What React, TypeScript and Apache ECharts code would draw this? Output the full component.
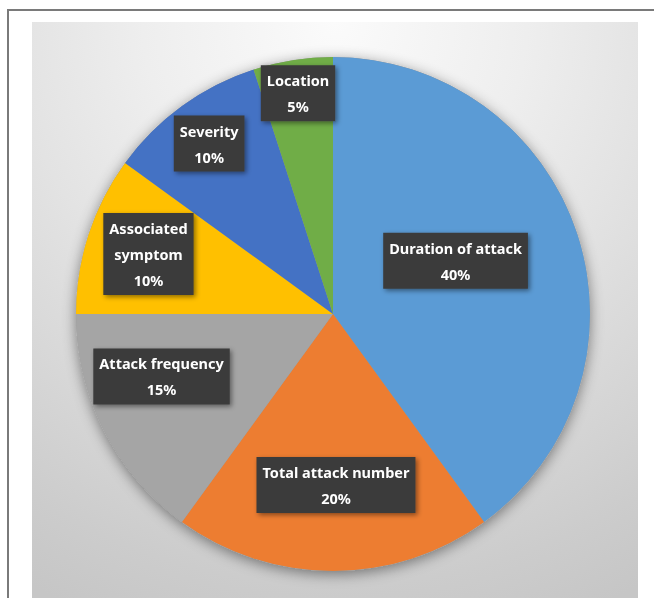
import React, { useEffect, useRef } from "react";
import * as echarts from "echarts";

const categories = [
  "Duration of attack",
  "Total attack number",
  "Attack frequency",
  "Associated\nsymptom",
  "Severity",
  "Location",
];
const values = [40, 20, 15, 10, 10, 5];
const colors = ["#5B9BD5", "#ED7D31", "#A5A5A5", "#FFC000", "#4472C4", "#70AD47"];

// label placement style (fraction of radius, angular tweak in degrees)
const labelRadius = [0.52, 0.665, 0.71, 0.755, 0.82, 0.87];
const labelAngleShift = [-5.5, -1, 7, 0, 0, 0];

const W = 654;
const H = 598;
const CX = 333;
const CY = 314;
const R = 257;

export default function App() {
  const ref = useRef<HTMLDivElement>(null);
  useEffect(() => {
    if (!ref.current) return;
    const chart = echarts.init(ref.current, null, { renderer: "svg" });
    const total = values.reduce((a, b) => a + b, 0);
    const mids: number[] = [];
    let acc = 0;
    values.forEach((v) => {
      mids.push(((acc + v / 2) / total) * 360);
      acc += v;
    });
    chart.setOption({
      animation: false,
      graphic: [
        {
          type: "rect",
          z: -10,
          shape: { x: 32, y: 22, width: 606, height: 600 },
          style: {
            fill: {
              type: "radial",
              x: 335,
              y: 22,
              r: 640,
              global: true,
              colorStops: [
                { offset: 0, color: "#fbfbfb" },
                { offset: 0.3, color: "#eeeeee" },
                { offset: 0.5, color: "#e3e3e3" },
                { offset: 0.88, color: "#cccccc" },
                { offset: 1, color: "#c6c6c6" },
              ],
            },
          },
        },
        {
          type: "polyline",
          z: -5,
          shape: { points: [[8, 620], [8, 10], [660, 10]] },
          style: { stroke: "#7a7a7a", lineWidth: 2, fill: null },
        },
        {
          type: "circle",
          z: -1,
          shape: { cx: CX, cy: CY, r: R },
          style: {
            fill: "#999999",
            shadowBlur: 14,
            shadowColor: "rgba(0,0,0,0.45)",
            shadowOffsetY: 3,
          },
        },
      ],
      series: [
        {
          type: "pie",
          z: 5,
          center: [CX, CY],
          radius: [0, R],
          startAngle: 90,
          clockwise: true,
          avoidLabelOverlap: false,
          emphasis: { disabled: true },
          itemStyle: { borderWidth: 0 },
          data: categories.map((name, i) => ({
            name,
            value: values[i],
            itemStyle: { color: colors[i] },
          })),
          label: {
            show: true,
            position: "inside",
            formatter: "{b}\n{c}%",
            color: "#ffffff",
            fontFamily: "Noto Sans",
            fontWeight: "bold",
            fontSize: 14.5,
            lineHeight: 26,
            align: "center",
            backgroundColor: "#3a3a3a",
            padding: [2, 6],
            shadowColor: "rgba(0,0,0,0.45)",
            shadowBlur: 5,
            shadowOffsetX: 2,
            shadowOffsetY: 2,
          },
          labelLine: { show: false },
          labelLayout: (params: any) => {
            const i = params.dataIndex;
            const a = ((mids[i] + labelAngleShift[i]) * Math.PI) / 180;
            const f = labelRadius[i] * R;
            return {
              x: CX + f * Math.sin(a),
              y: CY - f * Math.cos(a),
              align: "center",
              verticalAlign: "middle",
            };
          },
        },
      ],
    });
    return () => chart.dispose();
  }, []);
  return (
    <div
      ref={ref}
      style={{ position: "fixed", left: 0, top: 0, width: W, height: H }}
    />
  );
}
